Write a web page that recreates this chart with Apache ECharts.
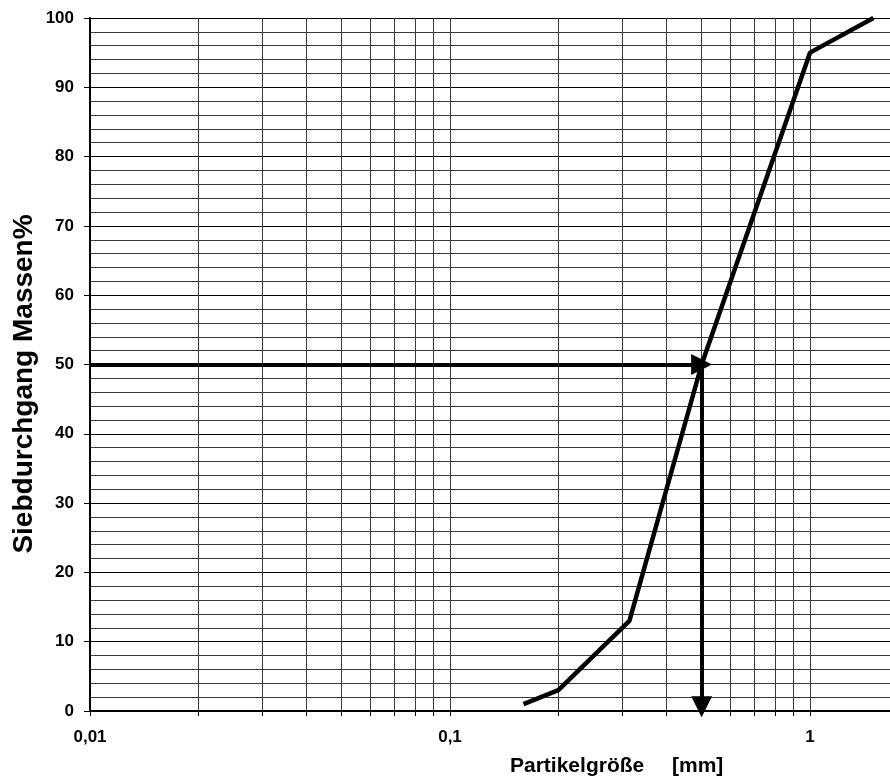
<!DOCTYPE html>
<html>
<head>
<meta charset="utf-8">
<script src="https://cdn.jsdelivr.net/npm/echarts@6/dist/echarts.min.js"></script>
<style>
  html, body { margin: 0; padding: 0; background: #fff; }
  #chart { width: 890px; height: 781px; }
</style>
</head>
<body>
<div id="chart"></div>
<script>
// Siebkurve
var sizes = [0.16, 0.2, 0.315, 0.5, 1, 1.5];
var passing = [1, 3, 13, 50, 95, 100];
// vertikale Gitterlinien (log)
var gridSizes = [0.01, 0.02, 0.03, 0.04, 0.05, 0.06, 0.07, 0.08, 0.09,
  0.1, 0.2, 0.3, 0.4, 0.5, 0.6, 0.7, 0.8, 0.9, 1];
var xLabels = [0.01, 0.1, 1];
// d50 Ablesung
var d50 = 0.5;
var d50Value = 50;

var chart = echarts.init(document.getElementById('chart'));
var font = 'Liberation Sans, Arial, sans-serif';

var option = {
  animation: false,
  grid: { left: 90, right: 0, top: 18, bottom: 70 },
  xAxis: {
    type: 'log',
    logBase: 10,
    min: 0.01,
    max: 1.668,
    axisLine: { show: true, onZero: false, lineStyle: { color: '#000', width: 2 } },
    axisTick: { show: true, length: 5, customValues: gridSizes, lineStyle: { color: '#000', width: 1 } },
    splitLine: { show: true, lineStyle: { color: '#3a3a3a', width: 1 } },
    axisLabel: {
      customValues: xLabels,
      margin: 18,
      color: '#000',
      fontFamily: font,
      fontWeight: 'bold',
      fontSize: 17,
      formatter: function (v) { return String(v).replace('.', ','); }
    }
  },
  yAxis: {
    type: 'value',
    min: 0,
    max: 100,
    interval: 10,
    axisLine: { show: true, lineStyle: { color: '#000', width: 2 } },
    axisTick: { show: true, length: 6, lineStyle: { color: '#000' } },
    splitLine: { show: true, lineStyle: { color: '#000', width: 1 } },
    minorTick: { show: false, splitNumber: 5 },
    minorSplitLine: { show: true, lineStyle: { color: '#3a3a3a', width: 1 } },
    axisLabel: {
      margin: 16,
      color: '#000',
      fontFamily: font,
      fontWeight: 'bold',
      fontSize: 17
    }
  },
  graphic: [
    {
      type: 'text', left: 510, top: 756,
      style: { text: 'Partikelgröße', font: 'bold 21px ' + font, fill: '#000' }
    },
    {
      type: 'text', left: 672, top: 756,
      style: { text: '[mm]', font: 'bold 21px ' + font, fill: '#000' }
    },
    {
      type: 'text', x: 24, y: 384, rotation: Math.PI / 2,
      style: {
        text: 'Siebdurchgang Massen%', font: 'bold 28px ' + font, fill: '#000',
        align: 'center', verticalAlign: 'middle'
      },
      originX: 0, originY: 0
    }
  ],
  series: [
    {
      type: 'line',
      data: sizes.map(function (s, i) { return [s, passing[i]]; }),
      showSymbol: false,
      symbol: 'none',
      lineStyle: { color: '#000', width: 4.5 },
      z: 3
    },
    {
      type: 'line',
      data: [],
      z: 4,
      markLine: {
        silent: true,
        symbol: ['none', 'triangle'],
        symbolSize: 21,
        label: { show: false },
        lineStyle: { color: '#000', width: 4, type: 'solid' },
        data: [
          [{ coord: [0.01, d50Value] }, { coord: [d50, d50Value] }],
          [{ coord: [d50, d50Value] }, { coord: [d50, 0.6] }]
        ]
      }
    }
  ]
};
chart.setOption(option);
</script>
</body>
</html>
